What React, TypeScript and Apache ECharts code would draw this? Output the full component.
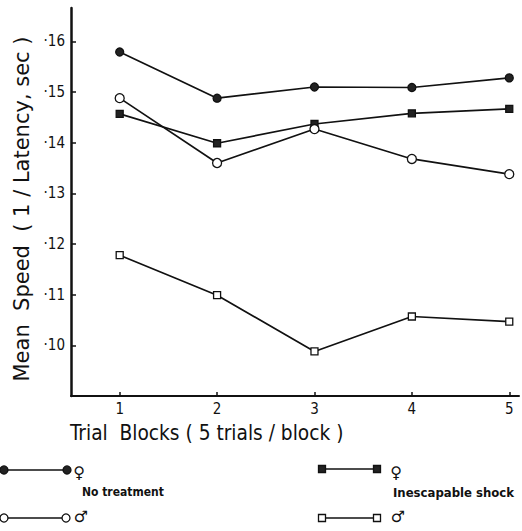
import React, { useEffect, useRef } from "react";
import * as echarts from "echarts";

const blocks = [1, 2, 3, 4, 5];
const yTicks = [0.1, 0.11, 0.12, 0.13, 0.14, 0.15, 0.16];
const noTreatFemale = [0.1579, 0.1488, 0.151, 0.1509, 0.1528];
const noTreatMale = [0.1488, 0.136, 0.1427, 0.1368, 0.1338];
const shockFemale = [0.1457, 0.1399, 0.1437, 0.1458, 0.1467];
const shockMale = [0.1178, 0.1099, 0.0988, 0.1057, 0.1047];

const FONT = "'DejaVu Sans Condensed', 'DejaVu Sans', sans-serif";

function pairs(vals: number[]) {
  return blocks.map((b, i) => [b, vals[i]]);
}

function legendKey(x1: number, x2: number, y: number, symbol: string, filled: boolean) {
  const els: any[] = [
    { type: "line", shape: { x1, y1: y, x2, y2: y }, style: { stroke: "#111", lineWidth: 1.6 } },
  ];
  for (const cx of [x1, x2]) {
    if (symbol === "circle") {
      els.push({
        type: "circle",
        shape: { cx, cy: y, r: 4 },
        style: { fill: filled ? "#222" : "#fff", stroke: "#111", lineWidth: 1.3 },
      });
    } else {
      els.push({
        type: "rect",
        shape: { x: cx - 3.5, y: y - 3.5, width: 7, height: 7 },
        style: { fill: filled ? "#222" : "#fff", stroke: "#111", lineWidth: 1.3 },
      });
    }
  }
  return els;
}

export default function App() {
  const ref = useRef<HTMLDivElement>(null);
  useEffect(() => {
    if (!ref.current) return;
    const chart = echarts.init(ref.current, null, { renderer: "svg" });
    const mkSeries = (name: string, vals: number[], symbol: string, filled: boolean, size: number) => ({
      name,
      type: "line",
      data: pairs(vals),
      symbol,
      symbolSize: size,
      showAllSymbol: true,
      lineStyle: { color: "#111", width: 1.7 },
      itemStyle: { color: filled ? "#222" : "#fff", borderColor: "#111", borderWidth: 1.3 },
      z: filled ? 3 : 4,
    });
    chart.setOption({
      animation: false,
      backgroundColor: "#fff",
      grid: { left: 71, right: 3, top: 8, bottom: 135, containLabel: false },
      xAxis: {
        type: "value",
        min: 0.5,
        max: 5.1,
        axisLine: { show: true, lineStyle: { color: "#111", width: 2 } },
        axisTick: { show: true, inside: true, length: 4, customValues: blocks, lineStyle: { color: "#111", width: 1.5 } },
        axisLabel: {
          customValues: blocks,
          color: "#111",
          fontFamily: FONT,
          fontSize: 15,
          margin: 5,
        },
        splitLine: { show: false },
      },
      yAxis: {
        type: "value",
        min: 0.09,
        max: 0.1666,
        axisLine: { show: true, lineStyle: { color: "#111", width: 2.5 } },
        axisTick: { show: true, inside: true, length: 5, customValues: yTicks, lineStyle: { color: "#111", width: 1.5 } },
        axisLabel: {
          customValues: yTicks,
          color: "#111",
          fontFamily: FONT,
          fontSize: 15,
          margin: 6,
          formatter: (v: number) => "·" + Math.round(v * 100),
        },
        splitLine: { show: false },
      },
      series: [
        mkSeries("No treatment ♀", noTreatFemale, "circle", true, 8),
        mkSeries("No treatment ♂", noTreatMale, "circle", false, 9),
        mkSeries("Inescapable shock ♀", shockFemale, "rect", true, 7),
        mkSeries("Inescapable shock ♂", shockMale, "rect", false, 7),
      ],
      graphic: [
        {
          type: "text",
          x: 22,
          y: 209,
          rotation: Math.PI / 2,
          style: {
            text: "Mean  Speed  ( 1 / Latency, sec )",
            fontFamily: "'DejaVu Sans', sans-serif",
            fontSize: 21,
            fill: "#111",
            align: "center",
            verticalAlign: "middle",
          },
        },
        {
          type: "text",
          x: 70,
          y: 433,
          style: {
            text: "Trial  Blocks ( 5 trials / block )",
            fontFamily: FONT,
            fontSize: 20.7,
            fill: "#111",
            align: "left",
            verticalAlign: "middle",
          },
        },
        ...legendKey(4, 67, 470, "circle", true),
        ...legendKey(4, 66, 518, "circle", false),
        ...legendKey(322, 377, 469, "rect", true),
        ...legendKey(322, 377, 518, "rect", false),
        { type: "text", x: 79, y: 472, style: { text: "♀", fontFamily: "'DejaVu Sans', sans-serif", fontSize: 16, fill: "#111", align: "center", verticalAlign: "middle" } },
        { type: "text", x: 81, y: 516, style: { text: "♂", fontFamily: "'DejaVu Sans', sans-serif", fontSize: 16, fill: "#111", align: "center", verticalAlign: "middle" } },
        { type: "text", x: 396, y: 472, style: { text: "♀", fontFamily: "'DejaVu Sans', sans-serif", fontSize: 16, fill: "#111", align: "center", verticalAlign: "middle" } },
        { type: "text", x: 398, y: 516, style: { text: "♂", fontFamily: "'DejaVu Sans', sans-serif", fontSize: 16, fill: "#111", align: "center", verticalAlign: "middle" } },
        { type: "text", x: 82, y: 492, style: { text: "No treatment", fontFamily: FONT, fontSize: 12, fontWeight: "bold", fill: "#111", align: "left", verticalAlign: "middle" } },
        { type: "text", x: 393, y: 492, style: { text: "Inescapable shock", fontFamily: FONT, fontSize: 13, fontWeight: "bold", fill: "#111", align: "left", verticalAlign: "middle" } },
      ],
    });
    return () => chart.dispose();
  }, []);
  return (
    <div
      ref={ref}
      style={{ position: "absolute", left: 0, top: 0, width: 522, height: 531 }}
    />
  );
}
